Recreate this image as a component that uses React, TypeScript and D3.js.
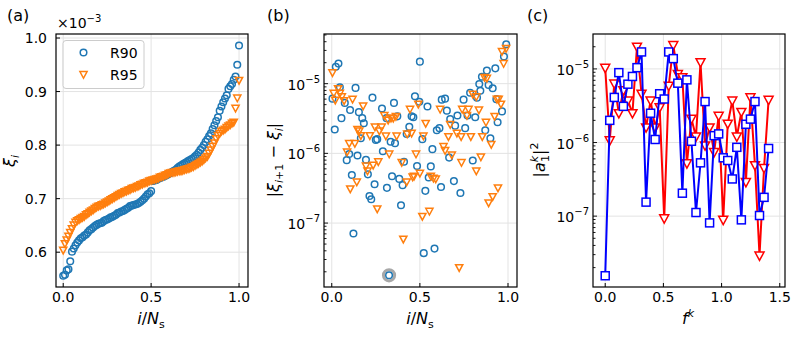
import * as d3 from "d3";

const FONT = "'DejaVu Sans', sans-serif";
const BLUE = "#1f77b4";
const ORANGE = "#ff7f0e";
const GRID = "#e3e3e3";

// panel (a): sorted xi values (units of 1e-3), i/Ns from 0 to 1
const r90Xi = [
  0.556, 0.558, 0.566, 0.568, 0.583, 0.601, 0.607, 0.613, 0.618, 0.622,
  0.626, 0.628, 0.631, 0.633, 0.637, 0.641, 0.643, 0.646, 0.649, 0.651,
  0.653, 0.654, 0.655, 0.658, 0.66, 0.661, 0.663, 0.665, 0.666, 0.668,
  0.67, 0.673, 0.674, 0.676, 0.677, 0.679, 0.681, 0.683, 0.686, 0.687,
  0.688, 0.689, 0.69, 0.692, 0.694, 0.697, 0.7, 0.704, 0.708, 0.71,
  0.714, 0.733, 0.734, 0.735, 0.737, 0.738, 0.74, 0.741, 0.743, 0.744,
  0.746, 0.748, 0.75, 0.752, 0.754, 0.757, 0.76, 0.762, 0.764, 0.766,
  0.768, 0.77, 0.772, 0.774, 0.776, 0.779, 0.782, 0.786, 0.791, 0.795,
  0.8, 0.806, 0.811, 0.817, 0.822, 0.83, 0.837, 0.845, 0.852, 0.864,
  0.872, 0.88, 0.887, 0.893, 0.905, 0.91, 0.914, 0.922, 0.928, 0.95, 0.986,
];
const r95Xi = [
  0.604, 0.616, 0.623, 0.63, 0.637, 0.644, 0.651, 0.656, 0.659, 0.661,
  0.663, 0.665, 0.667, 0.67, 0.672, 0.675, 0.677, 0.679, 0.682, 0.684,
  0.686, 0.687, 0.689, 0.69, 0.692, 0.694, 0.696, 0.698, 0.7, 0.702,
  0.704, 0.706, 0.708, 0.71, 0.711, 0.713, 0.714, 0.716, 0.717, 0.719,
  0.72, 0.721, 0.723, 0.724, 0.726, 0.727, 0.729, 0.73, 0.731, 0.733,
  0.734, 0.735, 0.736, 0.737, 0.738, 0.74, 0.741, 0.742, 0.744, 0.745,
  0.747, 0.748, 0.749, 0.749, 0.75, 0.751, 0.752, 0.752, 0.753, 0.754,
  0.755, 0.756, 0.757, 0.759, 0.76, 0.762, 0.764, 0.766, 0.768, 0.77,
  0.773, 0.776, 0.779, 0.785, 0.791, 0.798, 0.804, 0.812, 0.818, 0.822,
  0.826, 0.828, 0.83, 0.833, 0.836, 0.838, 0.841, 0.843, 0.869, 0.888, 0.921,
];

// panel (b): [i/Ns, |xi_{i+1} - xi_i|]
const r90Diff: [number, number][] = [
  [0.004, 6.1e-6], [0.017, 2.2e-6], [0.023, 1.75e-5], [0.038, 1.94e-5], [0.046, 8.9e-6],
  [0.055, 3.2e-6], [0.074, 5.3e-6], [0.085, 8.0e-7], [0.099, 9.8e-7], [0.104, 4.2e-6],
  [0.114, 4.9e-7], [0.123, 7.1e-8], [0.135, 8.7e-6], [0.146, 9.3e-7], [0.154, 3.9e-6],
  [0.165, 1.65e-6], [0.173, 3.2e-6], [0.182, 2.7e-6], [0.194, 8.1e-7], [0.205, 5.0e-7],
  [0.214, 2.45e-7], [0.224, 2.2e-7], [0.231, 6.3e-6], [0.243, 3.6e-7], [0.25, 1.56e-6],
  [0.258, 1.6e-6], [0.285, 4.4e-6], [0.29, 1.07e-6], [0.311, 3.2e-6], [0.313, 3.2e-7],
  [0.325, 1.78e-8], [0.334, 1.47e-6], [0.342, 4.7e-7], [0.353, 5.3e-6], [0.359, 1.4e-6],
  [0.372, 3.4e-6], [0.383, 4.3e-7], [0.393, 1.8e-7], [0.402, 3.5e-7], [0.41, 7.6e-7],
  [0.425, 1.9e-6], [0.44, 2.4e-6], [0.453, 3.4e-6], [0.463, 3.3e-6], [0.472, 6.6e-6],
  [0.484, 6.6e-7], [0.497, 5.5e-6], [0.5, 2.07e-5], [0.514, 1.6e-6], [0.522, 3.7e-8],
  [0.531, 2.9e-7], [0.543, 4.7e-6], [0.55, 4.5e-7], [0.562, 6.5e-7], [0.571, 1.15e-6],
  [0.583, 4.3e-8], [0.596, 2.15e-6], [0.611, 2.3e-6], [0.62, 3.3e-7], [0.624, 5.9e-6],
  [0.643, 6.1e-6], [0.653, 4.1e-6], [0.666, 8.7e-7], [0.672, 3.1e-6], [0.693, 4.0e-7],
  [0.7, 2.5e-6], [0.713, 3.5e-6], [0.73, 2.7e-7], [0.748, 5.9e-6], [0.757, 2.3e-6],
  [0.77, 3.5e-6], [0.785, 7.4e-6], [0.8, 7.9e-7], [0.814, 3.3e-6], [0.824, 6.3e-6],
  [0.837, 9.9e-6], [0.843, 7.9e-6], [0.852, 1.26e-5], [0.871, 2.15e-6], [0.88, 1.54e-5],
  [0.89, 9.6e-6], [0.9, 1.65e-6], [0.913, 8.6e-6], [0.928, 1.66e-5], [0.934, 6.0e-6],
  [0.941, 2.8e-6], [0.966, 4.0e-6], [0.977, 2.45e-5], [0.99, 3.67e-5],
];
const r95Diff: [number, number][] = [
  [0.004, 1.44e-5], [0.011, 7.3e-6], [0.02, 5.8e-6], [0.036, 8.5e-6], [0.046, 7.3e-6],
  [0.057, 6.5e-6], [0.07, 5.7e-6], [0.087, 1.05e-6], [0.099, 1.39e-6], [0.105, 3.1e-7],
  [0.118, 6.0e-6], [0.131, 1.39e-6], [0.142, 3.9e-7], [0.146, 2.2e-6], [0.156, 2.1e-6],
  [0.165, 1.8e-6], [0.178, 4.8e-6], [0.194, 6.6e-7], [0.203, 5.6e-7], [0.216, 1.8e-6],
  [0.235, 6.8e-7], [0.245, 2.4e-6], [0.258, 1.6e-7], [0.264, 7.6e-7], [0.27, 2.1e-6],
  [0.283, 2.4e-6], [0.298, 3.5e-6], [0.307, 1.78e-6], [0.32, 3.0e-6], [0.326, 9.8e-7],
  [0.336, 3.2e-6], [0.349, 3.2e-6], [0.364, 3.4e-6], [0.368, 1.78e-6], [0.397, 7.4e-7],
  [0.406, 5.9e-8], [0.425, 3.9e-7], [0.428, 1.9e-6], [0.444, 4.3e-6], [0.453, 1.95e-6],
  [0.459, 4.6e-7], [0.467, 4.7e-7], [0.478, 9.8e-7], [0.491, 5.1e-6], [0.5, 5.2e-7],
  [0.514, 1.25e-7], [0.52, 1.78e-6], [0.533, 2.7e-6], [0.554, 1.48e-7], [0.562, 4.7e-7],
  [0.577, 4.4e-7], [0.59, 4.3e-7], [0.615, 4.3e-6], [0.634, 1.26e-6], [0.643, 1.1e-6],
  [0.662, 1.74e-6], [0.672, 2.6e-6], [0.681, 9.5e-7], [0.71, 1.95e-6], [0.723, 2.3e-8],
  [0.734, 1.74e-6], [0.736, 7.4e-7], [0.74, 4.3e-6], [0.767, 3.5e-6], [0.776, 4.3e-6],
  [0.789, 1.74e-6], [0.8, 7.1e-6], [0.82, 6.5e-6], [0.82, 5.6e-7], [0.835, 4.2e-6],
  [0.846, 8.9e-7], [0.854, 1.74e-6], [0.867, 1.23e-5], [0.875, 2.8e-6], [0.88, 1.2e-5],
  [0.89, 1.95e-7], [0.905, 1.35e-6], [0.913, 2.4e-7], [0.924, 3.4e-6], [0.937, 6.0e-6],
  [0.943, 3.2e-7], [0.947, 6.0e-6], [0.96, 5.1e-6], [0.966, 2.9e-5], [0.975, 1.95e-5],
  [0.989, 3.2e-5],
];
const highlighted: [number, number] = [0.325, 1.78e-8];

// panel (c): spectrum |a_1^k|^2 vs f^k
const fk = [
  0, 0.039, 0.078, 0.117, 0.156, 0.195, 0.234, 0.273, 0.312, 0.351,
  0.39, 0.429, 0.468, 0.507, 0.546, 0.585, 0.624, 0.663, 0.702, 0.741,
  0.78, 0.819, 0.858, 0.897, 0.936, 0.975, 1.014, 1.053, 1.092, 1.131,
  1.17, 1.209, 1.248, 1.287, 1.326, 1.365, 1.404,
];
const a1Red = [
  1.03e-5, 1.07e-6, 6.3e-6, 2.5e-6, 5.1e-6, 3.7e-6, 2.5e-6, 2.0e-5, 4.6e-6, 1.6e-6,
  3.7e-6, 1.6e-6, 3.0e-6, 9.3e-8, 5.9e-6, 2.1e-5, 8.5e-6, 7.7e-6, 5.2e-7, 2.1e-6,
  1.2e-6, 1.23e-5, 9.1e-7, 1.6e-6, 7.4e-7, 2.3e-6, 8.9e-8, 1.8e-6, 3.7e-6, 1.2e-6,
  2.6e-6, 2.9e-7, 4.1e-6, 4.9e-7, 2.9e-8, 4.5e-7, 3.8e-6,
];
const a1Blue = [
  1.55e-8, 2.0e-6, 4.1e-6, 8.9e-6, 3.1e-6, 6.2e-6, 7.9e-6, 1.04e-5, 1.7e-5, 1.55e-7,
  2.5e-6, 1.1e-6, 4.6e-6, 3.9e-6, 1.7e-5, 1.38e-5, 6.4e-6, 2.05e-7, 7.1e-6, 1.04e-6,
  1.12e-7, 5.3e-7, 3.6e-6, 8.1e-8, 1.24e-6, 1.31e-6, 6.2e-7, 5.7e-7, 3.2e-7, 8.6e-7,
  8.9e-8, 1.77e-6, 2.08e-6, 3.6e-6, 1.02e-7, 1.8e-7, 8.3e-7,
];

const frameA = { l: 56, r: 248, t: 34, b: 287 };
const frameB = { l: 324, r: 517, t: 34, b: 287 };
const frameC = { l: 593, r: 785, t: 34, b: 287 };

const tri = (x: number, y: number, r: number) =>
  `M${x - r},${y - r * 0.8}L${x + r},${y - r * 0.8}L${x},${y + r * 1.05}Z`;

function Frame({ f }: { f: typeof frameA }) {
  return (
    <rect x={f.l} y={f.t} width={f.r - f.l} height={f.b - f.t} fill="none" stroke="black" strokeWidth={1.2} />
  );
}

function XTicks({ f, x, ticks, labels }: any) {
  return (
    <g>
      {ticks.map((t: number, i: number) => (
        <g key={t}>
          <line x1={x(t)} x2={x(t)} y1={f.b} y2={f.b - 4} stroke="black" strokeWidth={1} />
          <text x={x(t)} y={f.b + 15} textAnchor="middle" fontSize={14}>{labels[i]}</text>
        </g>
      ))}
    </g>
  );
}

function XGrid({ f, x, ticks }: any) {
  return (
    <g>
      {ticks.map((t: number) => (
        <line key={t} x1={x(t)} x2={x(t)} y1={f.t} y2={f.b} stroke={GRID} strokeWidth={1} />
      ))}
    </g>
  );
}

function LogY({ f, y, grid }: any) {
  const all = y.ticks();
  const majors = all.filter((t: number) => Math.abs(Math.log10(t) - Math.round(Math.log10(t))) < 1e-6);
  if (grid) {
    return (
      <g>
        {majors.map((t: number) => (
          <line key={t} x1={f.l} x2={f.r} y1={y(t)} y2={y(t)} stroke={GRID} strokeWidth={1} />
        ))}
      </g>
    );
  }
  return (
    <g>
      {all.map((t: number) => {
        const isMajor = majors.includes(t);
        return <line key={t} x1={f.l} x2={f.l + (isMajor ? 4 : 2.5)} y1={y(t)} y2={y(t)} stroke="black" strokeWidth={0.9} />;
      })}
      {majors.map((t: number) => (
        <text key={"l" + t} x={f.l - 4} y={y(t) + 6} textAnchor="end" fontSize={14}>
          10<tspan dy={-7} fontSize={10}>{"\u2212" + Math.round(-Math.log10(t))}</tspan>
        </text>
      ))}
    </g>
  );
}

export default function App() {
  // panel (a)
  const xa = d3.scaleLinear().domain([-0.041, 1.051]).range([frameA.l, frameA.r]);
  const ya = d3.scaleLinear().domain([0.535, 1.0075]).range([frameA.b, frameA.t]);
  const aYTicks = [0.6, 0.7, 0.8, 0.9, 1.0];
  // panel (b)
  const xb = d3.scaleLinear().domain([-0.044, 1.051]).range([frameB.l, frameB.r]);
  const yb = d3.scaleLog().domain([1.21e-8, 5.16e-5]).range([frameB.b, frameB.t]);
  // panel (c)
  const xc = d3.scaleLinear().domain([-0.105, 1.545]).range([frameC.l, frameC.r]);
  const yc = d3.scaleLog().domain([1.09e-8, 2.98e-5]).range([frameC.b, frameC.t]);

  const lineC = d3.line<number>().x((_, i) => xc(fk[i])).y((d) => yc(d));

  const xTicks = [0, 0.5, 1.0];
  const xLabels = ["0.0", "0.5", "1.0"];

  return (
    <svg width={793} height={338} style={{ position: "absolute", left: 0, top: 0, background: "white" }} fontFamily={FONT}>
      <rect width={793} height={338} fill="white" />

      {/* ---------- (a) ---------- */}
      <XGrid f={frameA} x={xa} ticks={xTicks} />
      {aYTicks.map((t) => (
        <line key={t} x1={frameA.l} x2={frameA.r} y1={ya(t)} y2={ya(t)} stroke={GRID} strokeWidth={1} />
      ))}
      {r90Xi.map((v, i) => (
        <circle key={"a90" + i} cx={xa(i / (r90Xi.length - 1))} cy={ya(v)} r={3.3} fill="none" stroke={BLUE} strokeWidth={1.5} />
      ))}
      {r95Xi.map((v, i) => (
        <path key={"a95" + i} d={tri(xa(i / (r95Xi.length - 1)), ya(v), 3.6)} fill="none" stroke={ORANGE} strokeWidth={1.5} />
      ))}
      <Frame f={frameA} />
      <XTicks f={frameA} x={xa} ticks={xTicks} labels={xLabels} />
      {aYTicks.map((t) => (
        <g key={t}>
          <line x1={frameA.l} x2={frameA.l + 4} y1={ya(t)} y2={ya(t)} stroke="black" />
          <text x={frameA.l - 9} y={ya(t) + 5} textAnchor="end" fontSize={14}>{t.toFixed(1)}</text>
        </g>
      ))}
      <text x={57} y={28} fontSize={14}>
        ×10<tspan dy={-6} fontSize={10}>−3</tspan>
      </text>
      {/* legend */}
      <rect x={63} y={40.5} width={81} height={48} rx={3} fill="white" fillOpacity={0.8} stroke="#cccccc" strokeWidth={1} />
      <circle cx={83.5} cy={52.5} r={3.3} fill="none" stroke={BLUE} strokeWidth={1.5} />
      <text x={110} y={57.5} fontSize={14}>R90</text>
      <path d={tri(83.5, 74.5, 3.6)} fill="none" stroke={ORANGE} strokeWidth={1.5} />
      <text x={110} y={79.5} fontSize={14}>R95</text>
      <text x={7} y={21} fontSize={16}>(a)</text>
      <text transform={`translate(15,161) rotate(-90)`} textAnchor="middle" fontSize={16}>
        <tspan fontStyle="italic">ξ</tspan>
        <tspan dy={4} fontSize={11} fontStyle="italic">i</tspan>
      </text>
      <text x={151} y={324} textAnchor="middle" fontSize={16}>
        <tspan fontStyle="italic">i</tspan>/<tspan fontStyle="italic">N</tspan>
        <tspan dy={4} fontSize={11}>s</tspan>
      </text>

      {/* ---------- (b) ---------- */}
      <XGrid f={frameB} x={xb} ticks={xTicks} />
      <LogY f={frameB} y={yb} grid />
      <circle cx={xb(highlighted[0])} cy={yb(highlighted[1])} r={5.6} fill="none" stroke="#a8a8a8" strokeWidth={3} />
      {r90Diff.map((d, i) => (
        <circle key={"b90" + i} cx={xb(d[0])} cy={yb(d[1])} r={3.3} fill="none" stroke={BLUE} strokeWidth={1.5} />
      ))}
      {r95Diff.map((d, i) => (
        <path key={"b95" + i} d={tri(xb(d[0]), yb(d[1]), 3.6)} fill="none" stroke={ORANGE} strokeWidth={1.5} />
      ))}
      <Frame f={frameB} />
      <XTicks f={frameB} x={xb} ticks={xTicks} labels={xLabels} />
      <LogY f={frameB} y={yb} />
      <text x={267} y={21} fontSize={16}>(b)</text>
      <text transform={`translate(279,160) rotate(-90)`} textAnchor="middle" fontSize={16}>
        |<tspan fontStyle="italic">ξ</tspan>
        <tspan dy={4} fontSize={11} fontStyle="italic">i</tspan>
        <tspan fontSize={11}>+1</tspan>
        <tspan dy={-4}> − </tspan>
        <tspan fontStyle="italic">ξ</tspan>
        <tspan dy={4} fontSize={11} fontStyle="italic">i</tspan>
        <tspan dy={-4}>|</tspan>
      </text>
      <text x={420} y={324} textAnchor="middle" fontSize={16}>
        <tspan fontStyle="italic">i</tspan>/<tspan fontStyle="italic">N</tspan>
        <tspan dy={4} fontSize={11}>s</tspan>
      </text>

      {/* ---------- (c) ---------- */}
      <XGrid f={frameC} x={xc} ticks={[0, 0.5, 1.0, 1.5]} />
      <LogY f={frameC} y={yc} grid />
      <path d={lineC(a1Red) ?? ""} fill="none" stroke="red" strokeWidth={2} strokeLinejoin="round" />
      {a1Red.map((v, i) => (
        <path key={"cr" + i} d={tri(xc(fk[i]), yc(v), 4.5)} fill="white" stroke="red" strokeWidth={1.5} />
      ))}
      <path d={lineC(a1Blue) ?? ""} fill="none" stroke="blue" strokeWidth={2} strokeLinejoin="round" />
      {a1Blue.map((v, i) => (
        <rect key={"cb" + i} x={xc(fk[i]) - 4} y={yc(v) - 4} width={8} height={8} fill="white" stroke="blue" strokeWidth={1.5} />
      ))}
      <Frame f={frameC} />
      <XTicks f={frameC} x={xc} ticks={[0, 0.5, 1.0, 1.5]} labels={["0.0", "0.5", "1.0", "1.5"]} />
      <LogY f={frameC} y={yc} />
      <text x={527} y={21} fontSize={16}>(c)</text>
      <text transform={`translate(545,160) rotate(-90)`} textAnchor="middle" fontSize={16}>
        |<tspan fontStyle="italic">a</tspan>
        <tspan dy={-7} fontSize={11} fontStyle="italic">k</tspan>
        <tspan dx={-6} dy={11} fontSize={11}>1</tspan>
        <tspan dy={-4}>|</tspan>
        <tspan dy={-7} fontSize={11}>2</tspan>
      </text>
      <text x={688} y={324} textAnchor="middle" fontSize={16}>
        <tspan fontStyle="italic">f</tspan>
        <tspan dy={-7} fontSize={11} fontStyle="italic">k</tspan>
      </text>
    </svg>
  );
}
